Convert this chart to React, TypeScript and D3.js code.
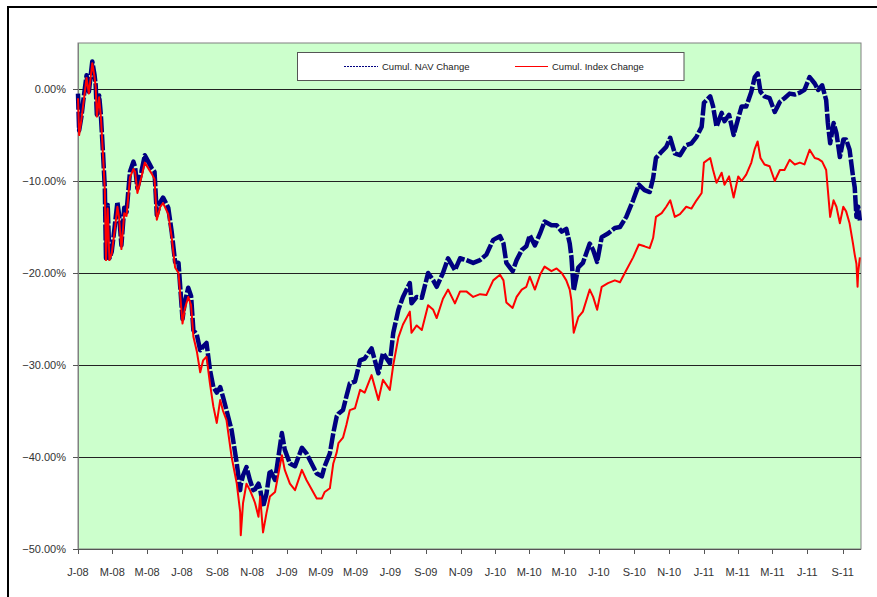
import React from "react";
import * as d3 from "d3";

const START = new Date(2008, 0, 1);
const END_OFFSET = 1371;

const dayOffsets = [
  0, 2, 6, 9, 15, 19, 25, 29, 31, 33,
  37, 40, 44, 47, 49, 52, 55, 59, 64, 69,
  72, 76, 81, 85, 91, 97, 100, 104, 111, 117,
  123, 129, 134, 138, 144, 149, 158, 164, 170, 176,
  183, 187, 193, 198, 202, 208, 214, 219, 225, 231,
  237, 243, 249, 254, 260, 269, 278, 284, 285, 289,
  295, 301, 307, 310, 316, 319, 324, 330, 336, 345,
  357, 362, 371, 380, 392, 400, 409, 418, 427, 432,
  441, 447, 453, 456, 464, 470, 476, 485, 494, 502,
  514, 526, 534, 546, 552, 561, 569, 581, 584, 593,
  602, 613, 622, 628, 639, 648, 660, 669, 680, 692,
  704, 715, 727, 739, 745, 750, 761, 768, 777, 785,
  791, 800, 809, 817, 829, 838, 847, 855, 861, 864,
  868, 876, 884, 896, 902, 909, 917, 928, 940, 949,
  960, 972, 982, 992, 1001, 1007, 1012, 1022, 1030, 1037,
  1045, 1054, 1065, 1074, 1083, 1092, 1096, 1107, 1112, 1118,
  1127, 1132, 1140, 1148, 1156, 1162, 1170, 1179, 1185, 1190,
  1195, 1202, 1211, 1220, 1229, 1237, 1246, 1255, 1264, 1272,
  1281, 1290, 1296, 1303, 1310, 1313, 1317, 1323, 1328, 1334,
  1340, 1345, 1351, 1357, 1360, 1363, 1365, 1366, 1369,
];

const navChange = [
  -0.5, -4.5, -3.0, -1.4, 1.5, -0.3, 3.0, 1.5, 0.4, -2.8,
  -0.7, -2.8, -7.2, -10.8, -18.4, -12.6, -18.4, -17.7, -15.1, -12.3,
  -13.7, -17.0, -12.9, -13.4, -9.0, -7.9, -8.5, -10.8, -9.0, -7.2,
  -7.9, -8.6, -9.0, -13.7, -12.3, -11.8, -12.9, -15.5, -18.8, -18.9,
  -25.0, -23.2, -21.6, -22.5, -26.2, -26.7, -28.4, -28.0, -27.6, -30.5,
  -32.4, -33.0, -32.4, -33.5, -34.9, -37.1, -40.7, -43.6, -43.0, -42.0,
  -41.1, -42.5, -43.6, -43.5, -42.9, -43.5, -45.4, -44.0, -41.4, -42.5,
  -37.4, -39.2, -40.7, -41.0, -39.0, -39.6, -40.7, -41.8, -42.1, -41.0,
  -39.6, -37.4, -35.6, -35.3, -34.9, -33.4, -32.0, -31.8, -29.5, -29.3,
  -28.2, -30.9, -28.7, -29.8, -26.5, -24.0, -22.6, -21.1, -23.3, -22.6,
  -22.7, -20.0, -20.8, -21.5, -20.0, -18.4, -19.7, -18.4, -18.6, -18.9,
  -18.6, -18.0, -16.4, -16.0, -16.8, -18.9, -19.8, -18.6, -17.5, -17.1,
  -15.9, -17.0, -15.7, -14.4, -14.8, -14.8, -15.5, -15.2, -16.8, -18.3,
  -21.9, -19.4, -18.9, -16.8, -17.5, -18.8, -16.1, -15.7, -15.1, -15.0,
  -13.9, -12.1, -10.4, -11.0, -11.2, -9.7, -7.5, -6.8, -6.3, -5.3,
  -7.0, -7.2, -6.1, -5.9, -5.2, -4.1, -1.5, -0.8, -1.9, -4.1,
  -2.6, -3.5, -2.8, -5.0, -3.2, -1.9, -1.9, -0.3, 1.3, 1.7,
  -0.3, -0.8, -1.0, -2.5, -1.4, -1.0, -0.5, -0.6, -0.4, -0.1,
  1.3, 0.6, -0.1, 0.4, -1.2, -3.7, -5.9, -3.7, -4.8, -7.4,
  -5.5, -5.5, -6.6, -9.5, -10.7, -13.9, -13.0, -12.8, -14.3,
];

const indexChange = [
  -1.0, -5.0, -3.3, -1.8, 1.2, -0.5, 2.8, 1.3, 0.2, -3.0,
  -0.9, -3.0, -7.4, -11.0, -18.6, -13.0, -18.6, -17.9, -15.5, -12.8,
  -14.0, -17.4, -13.5, -13.8, -9.6, -8.7, -9.0, -11.3, -9.6, -8.0,
  -8.6, -9.2, -9.8, -14.2, -12.8, -12.4, -13.6, -16.1, -19.4, -20.0,
  -25.5, -23.9, -22.6, -23.5, -26.9, -28.5, -30.8, -29.5, -29.1, -32.0,
  -34.5, -36.3, -33.8, -35.0, -36.0, -40.0, -42.9, -46.0, -48.5, -45.0,
  -42.9, -43.6, -44.5, -45.0, -46.5, -44.3, -48.2, -46.1, -44.3, -43.8,
  -39.8, -41.4, -42.9, -43.6, -41.4, -42.5, -43.5, -44.5, -44.5, -43.8,
  -43.4, -40.7, -39.5, -38.5, -37.9, -36.5, -34.9, -34.7, -32.7, -33.0,
  -31.1, -33.8, -31.6, -32.7, -30.0, -27.0, -25.6, -24.2, -26.5, -25.7,
  -26.2, -23.5, -24.0, -24.9, -22.8, -21.8, -23.3, -22.0, -22.0, -22.6,
  -22.3, -22.4, -20.8, -20.2, -20.8, -23.2, -23.8, -22.6, -21.8, -21.5,
  -20.4, -21.8, -20.2, -19.3, -19.8, -19.5, -20.0, -20.8, -21.8, -23.0,
  -26.5, -24.8, -24.2, -21.8, -22.6, -24.0, -21.5, -21.1, -20.8, -21.0,
  -19.7, -18.3, -16.9, -17.1, -17.3, -16.2, -13.9, -13.5, -12.8, -12.1,
  -13.9, -13.6, -12.8, -13.0, -12.1, -11.3, -8.0, -7.5, -8.8, -10.2,
  -9.1, -10.4, -9.5, -11.8, -9.5, -10.0, -9.3, -8.0, -6.5, -5.7,
  -7.5, -8.2, -8.4, -10.0, -8.8, -8.8, -7.7, -8.2, -8.0, -8.2,
  -6.6, -7.5, -7.6, -7.9, -8.8, -11.0, -13.9, -12.1, -12.8, -14.6,
  -12.8, -13.3, -14.6, -16.8, -18.0, -19.0, -21.5, -20.0, -18.3,
];

const yTicks = [0, -10, -20, -30, -40, -50];
const monthLetters = ["J", "F", "M", "A", "M", "J", "J", "A", "S", "O", "N", "D"];
const seriesNames = ["Cumul. NAV Change", "Cumul. Index Change"];

const W = 877;
const H = 597;
const PL = 78;
const PR = 861;
const PT = 43;
const PB = 549;
const FONT = "'Liberation Sans', Arial, sans-serif";

export default function App() {
  const x = d3
    .scaleTime()
    .domain([START, d3.timeDay.offset(START, END_OFFSET)])
    .range([PL, PR]);
  const y = d3.scaleLinear().domain([-50, 5]).range([PB, PT]);

  const n = Math.min(dayOffsets.length, navChange.length, indexChange.length);
  const dates = dayOffsets.slice(0, n).map((d) => d3.timeDay.offset(START, d));

  const line = d3
    .line<number>()
    .x((_, i) => x(dates[i]))
    .y((v) => y(v));

  const navPath = line(navChange.slice(0, n)) || "";
  const idxPath = line(indexChange.slice(0, n)) || "";

  const xTicks = d3.timeMonth.every(2)!.range(START, new Date(2011, 9, 1));

  return (
    <svg
      width={W}
      height={H}
      style={{ position: "absolute", left: 0, top: 0, display: "block", background: "#fff" }}
    >
      <rect x={8} y={7} width={W + 20} height={H + 20} fill="#fff" stroke="#000" strokeWidth={2} />
      <rect x={PL} y={PT} width={PR - PL} height={PB - PT} fill="#CCFFCC" stroke="#808080" strokeWidth={1} />
      {yTicks.map((t) => (
        <g key={t}>
          {t > -50 && (
            <line x1={PL} x2={PR} y1={Math.round(y(t)) + 0.5} y2={Math.round(y(t)) + 0.5} stroke="#222" strokeWidth={1} />
          )}
          <line x1={PL - 5} x2={PL} y1={Math.round(y(t)) + 0.5} y2={Math.round(y(t)) + 0.5} stroke="#555" />
          <text
            x={66}
            y={y(t) + 4}
            textAnchor="end"
            fontFamily={FONT}
            fontSize={11}
            fill="#333"
          >
            {d3.format(".2f")(t) + "%"}
          </text>
        </g>
      ))}
      <line x1={PL + 0.5} x2={PL + 0.5} y1={PT} y2={PB} stroke="#808080" />
      <line x1={PL} x2={PR} y1={PB + 0.5} y2={PB + 0.5} stroke="#555" />
      {xTicks.map((d) => (
        <g key={d.getTime()}>
          <line x1={Math.round(x(d)) + 0.5} x2={Math.round(x(d)) + 0.5} y1={PB} y2={PB + 5} stroke="#555" />
          <text
            x={x(d)}
            y={576}
            textAnchor="middle"
            fontFamily={FONT}
            fontSize={11}
            fill="#333"
          >
            {monthLetters[d.getMonth()] + "-" + String(d.getFullYear()).slice(2)}
          </text>
        </g>
      ))}
      <path d={navPath} fill="none" stroke="#000080" strokeWidth={4.5} strokeDasharray="16 2" strokeLinejoin="round" />
      <path d={idxPath} fill="none" stroke="#FF0000" strokeWidth={2} strokeLinejoin="round" />
      <g>
        <rect x={297.5} y={52.5} width={386.5} height={28} fill="#fff" stroke="#555" strokeWidth={1} />
        <line x1={344} x2={378} y1={66.5} y2={66.5} stroke="#000080" strokeWidth={1} strokeDasharray="2 1" />
        <text x={382} y={70} fontFamily={FONT} fontSize={9.5} fill="#222">
          {seriesNames[0]}
        </text>
        <line x1={515} x2={548} y1={66.5} y2={66.5} stroke="#FF0000" strokeWidth={1} />
        <text x={552} y={70} fontFamily={FONT} fontSize={9.5} fill="#222">
          {seriesNames[1]}
        </text>
      </g>
    </svg>
  );
}
